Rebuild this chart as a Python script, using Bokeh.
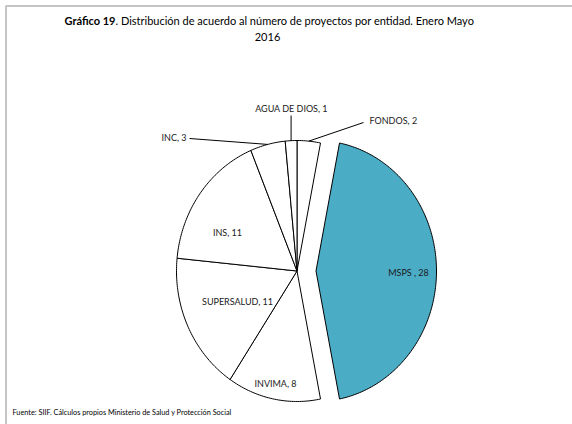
import numpy as np
from bokeh.plotting import figure
from bokeh.models import ColumnDataSource
from bokeh.core.properties import value
from bokeh.embed import file_html
from bokeh.resources import INLINE

# ---- data ----
entities = ["FONDOS", "MSPS ", "INVIMA", "SUPERSALUD", "INS", "INC", "AGUA DE DIOS"]
projects = [2, 28, 8, 11, 11, 3, 1]
exploded = [False, True, False, False, False, False, False]
colors = ["#FFFFFF", "#4BACC6", "#FFFFFF", "#FFFFFF", "#FFFFFF", "#FFFFFF", "#FFFFFF"]

title_bold = "Gráfico 19"
title_rest = ". Distribución de acuerdo al número de proyectos por entidad. Enero Mayo"
title_line2 = "2016"
source_note = "Fuente: SIIF. Cálculos propios Ministerio de Salud y Protección Social"

# ---- layout (pixel units of the figure) ----
W, H = 572, 424
CX, CY = 296.5, 153.5
RX, RY = 120.5, 130.5
EXPLODE = 19.0
FONT = "Lato"

# label placement: (x, y, align, leader_end or None)
label_layout = {
    "FONDOS": (369, 304, "left", (363, 302)),
    "MSPS ": (408, 152, "center", None),
    "INVIMA": (275, 41, "center", None),
    "SUPERSALUD": (237, 123, "center", None),
    "INS": (227, 192, "center", None),
    "INC": (186, 287, "right", (189, 286)),
    "AGUA DE DIOS": (291, 316, "center", "vertical"),
}

p = figure(width=W, height=H, x_range=(0, W), y_range=(0, H),
           output_backend="svg", toolbar_location=None,
           x_axis_location=None, y_axis_location=None,
           min_border=0, outline_line_color=None)
p.grid.visible = False
p.background_fill_color = "white"
p.border_fill_color = "white"

# frame border (top & left)
p.line([5.5, 5.5, W], [0, H - 5.5, H - 5.5], line_color="#C4C4C4", line_width=2)

# slices (angles measured clockwise from 12 o'clock)
total = float(sum(projects))
fr = np.array(projects) / total
ends = np.cumsum(fr) * 2 * np.pi
starts = ends - fr * 2 * np.pi
mids = (starts + ends) / 2

xs, ys = [], []
for s, e, m, ex in zip(starts, ends, mids, exploded):
    n = max(int((e - s) / (2 * np.pi) * 400), 6)
    t = np.linspace(s, e, n)
    ox = EXPLODE * np.sin(m) if ex else 0.0
    oy = EXPLODE * np.cos(m) if ex else 0.0
    px = np.concatenate([[CX], CX + RX * np.sin(t)]) + ox
    py = np.concatenate([[CY], CY + RY * np.cos(t)]) + oy
    xs.append(list(px))
    ys.append(list(py))

src = ColumnDataSource(dict(xs=xs, ys=ys, color=colors))
p.patches("xs", "ys", source=src, fill_color="color", line_color="black", line_width=1)

# labels & leader lines
for name, v, m in zip(entities, projects, mids):
    lx, ly, align, lead = label_layout[name]
    txt = f"{name}, {v}"
    p.text(x=[lx], y=[ly], text=[txt], text_font=value(FONT), text_font_size="9px",
           text_align=align, text_baseline="middle", text_color="#1a1a1a")
    if lead is not None:
        ex_, ey_ = CX + RX * np.sin(m), CY + RY * np.cos(m)
        if lead == "vertical":
            p.line([ex_, ex_], [ey_, ly - 7], line_color="black", line_width=1)
        else:
            p.line([lead[0], ex_], [lead[1], ey_], line_color="black", line_width=1)

# title
p.text(x=[115], y=[404], text=[title_bold], text_font=value(FONT), text_font_size="11px",
       text_font_style="bold", text_align="right", text_baseline="middle", text_color="black")
p.text(x=[115], y=[404], text=[title_rest], text_font=value(FONT), text_font_size="11px",
       text_align="left", text_baseline="middle", text_color="black")
p.text(x=[267], y=[388], text=[title_line2], text_font=value(FONT), text_font_size="11px",
       text_align="center", text_baseline="middle", text_color="black")

# source note
p.text(x=[12], y=[12], text=[source_note], text_font=value(FONT), text_font_size="7.3px",
       text_align="left", text_baseline="middle", text_color="black")

open("out.html", "w").write(file_html(p, INLINE))
